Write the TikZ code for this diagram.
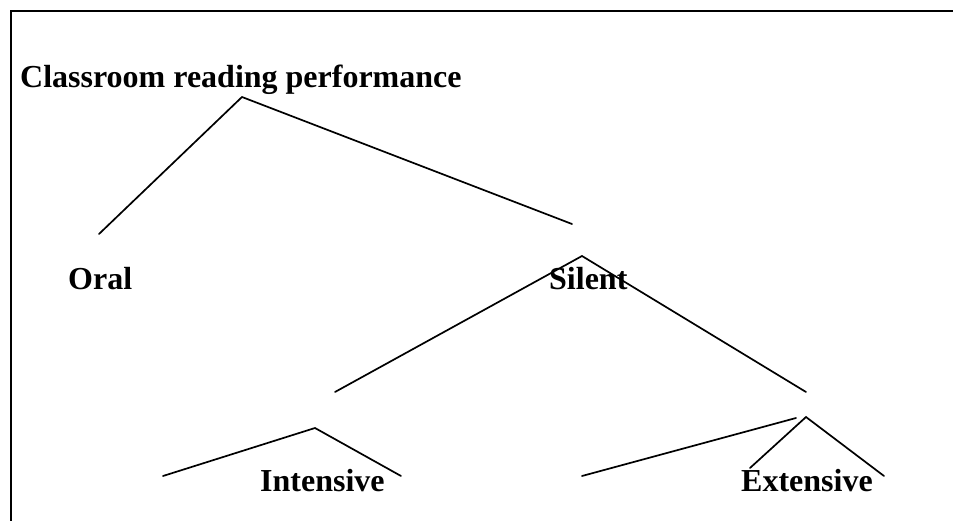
\documentclass[tikz,border=0pt]{standalone}
\usepackage{fontspec}
\setmainfont{Liberation Serif}
\begin{document}
\begin{tikzpicture}[x=1pt,y=-1pt,
  label/.style={anchor=base west,inner sep=0pt,font=\fontsize{32}{38}\selectfont\bfseries},
  branch/.style={line width=1.7pt,line cap=round},
  frame/.style={line width=2.2pt}]
\useasboundingbox (0,0) rectangle (953,521);
% open frame: top and left edges only
\draw[frame] (953,11) -- (11,11) -- (11,521);

% labels
\node[label] (root) at (20,88) {Classroom reading performance};
\node[label] (oral) at (68,290) {Oral};
\node[label] (silent) at (549,290) {Silent};
\node[label] (intensive) at (260,491) {Intensive};
\node[label] (extensive) at (741,491) {Extensive};

% branch points
\coordinate (r0) at (242,97);
\coordinate (r1) at (99,234);
\coordinate (r2) at (572,224);
\coordinate (s0) at (582,256);
\coordinate (s1) at (335,392);
\coordinate (s2) at (806,392);
\coordinate (i0) at (315,428);
\coordinate (i1) at (163,476);
\coordinate (i2) at (401,476);
\coordinate (e1) at (582,476);
\coordinate (e2) at (796,418);
\coordinate (x0) at (806,417);
\coordinate (x1) at (750,468);
\coordinate (x2) at (884,476);

\draw[branch] (r1) -- (r0) -- (r2);
\draw[branch] (s1) -- (s0) -- (s2);
\draw[branch] (i1) -- (i0) -- (i2);
\draw[branch] (e1) -- (e2);
\draw[branch] (x1) -- (x0) -- (x2);
\end{tikzpicture}
\end{document}
